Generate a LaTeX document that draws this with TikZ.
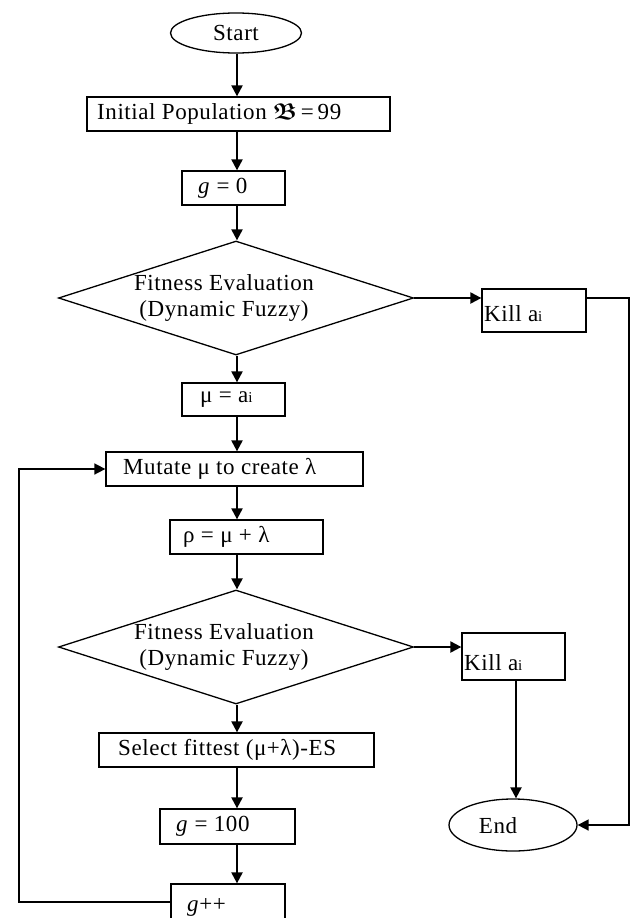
\documentclass[tikz,border=0pt]{standalone}
\usepackage{amsmath,amssymb}
\usepackage{fontspec}
\setmainfont[LetterSpace=2.5]{Liberation Serif}
\usetikzlibrary{arrows.meta,shapes.geometric}
\newcommand{\smi}{{\fontsize{15}{15}\selectfont i}}
\begin{document}
\begin{tikzpicture}[x=1pt,y=-1pt,
  font=\fontsize{23}{26}\selectfont,
  box/.style={draw, rectangle, line width=1.3pt, inner sep=0pt},
  oval/.style={draw, ellipse, line width=1.3pt, inner sep=0pt},
  dia/.style={draw, diamond, line width=1.3pt, inner sep=0pt, minimum width=355pt, minimum height=114pt},
  txt/.style={inner sep=0pt},
  arr/.style={line width=2.2pt, -{Triangle[length=11pt,width=11pt]}},
  conn/.style={line width=1.7pt, -{Triangle[length=11pt,width=11pt]}}]
\useasboundingbox (0,0) rectangle (631,918);
\clip (0,0) rectangle (631,918);
% shapes
\node[oval, minimum width=131pt, minimum height=40pt] (start) at (236,33) {};
\node[box, minimum width=303pt, minimum height=34pt] (init) at (238.5,114) {};
\node[box, minimum width=103pt, minimum height=34pt] (g0) at (233.5,188) {};
\node[dia] (d1) at (236,298) {};
\node[box, minimum width=104pt, minimum height=43pt] (kill1) at (534,310.5) {};
\node[box, minimum width=103pt, minimum height=33pt] (mu) at (233.5,399.5) {};
\node[box, minimum width=257pt, minimum height=34pt] (mutate) at (234.5,469) {};
\node[box, minimum width=153pt, minimum height=34pt] (rho) at (246.5,537) {};
\node[dia] (d2) at (236,647) {};
\node[box, minimum width=103pt, minimum height=47pt] (kill2) at (513.5,656.5) {};
\node[box, minimum width=275pt, minimum height=34pt] (select) at (236.5,750) {};
\node[box, minimum width=135pt, minimum height=35pt] (g100) at (227.5,826.5) {};
\node[box, minimum width=114pt, minimum height=56pt] (gpp) at (228,912) {};
\node[oval, minimum width=128pt, minimum height=52pt] (end) at (513,825) {};
% texts
\node[txt] (tstart) at (236,33) {Start};
\node[txt, anchor=west] (tinit) at (97,114) {Initial Population $\boldsymbol{\mathfrak{B}}$\,=\,99};
\node[txt, anchor=west] (tg0) at (198,188) {\textit{g} = 0};
\node[txt, align=center] (td1) at (224,298) {Fitness Evaluation\\(Dynamic Fuzzy)};
\node[txt, anchor=west] (tk1) at (484,314) {Kill a\smi};
\node[txt, anchor=west] (tmu) at (200,399.5) {μ = a\smi};
\node[txt, anchor=west] (tmut) at (123,469) {Mutate μ to create λ};
\node[txt, anchor=west] (trho) at (183,537) {ρ = μ + λ};
\node[txt, align=center] (td2) at (224,647) {Fitness Evaluation\\(Dynamic Fuzzy)};
\node[txt, anchor=west] (tk2) at (464,663) {Kill a\smi};
\node[txt, anchor=west] (tsel) at (118,750) {Select fittest (μ+λ)-ES};
\node[txt, anchor=west] (tg100) at (176,826) {\textit{g} = 100};
\node[txt, anchor=west] (tgpp) at (187,907) {\textit{g}++};
\node[txt] (tend) at (498,826) {End};
% connectors
\coordinate (col) at (237,0);
\coordinate (kc) at (516,0);
\coordinate (rc) at (629,298);
\coordinate (lp) at (19,902);
\draw[arr] (col |- start.south) -- (col |- init.north);
\draw[arr] (col |- init.south) -- (col |- g0.north);
\draw[arr] (col |- g0.south) -- (col |- d1.north);
\draw[arr] (col |- d1.south) -- (col |- mu.north);
\draw[arr] (col |- mu.south) -- (col |- mutate.north);
\draw[arr] (col |- mutate.south) -- (col |- rho.north);
\draw[arr] (col |- rho.south) -- (col |- d2.north);
\draw[arr] (col |- d2.south) -- (col |- select.north);
\draw[arr] (col |- select.south) -- (col |- g100.north);
\draw[arr] (col |- g100.south) -- (col |- gpp.north);
\draw[arr] (d1.east) -- (d1.east -| kill1.west);
\draw[arr] (d2.east) -- (d2.east -| kill2.west);
\draw[conn] (kill1.east |- rc) -- (rc) |- (end.east);
\draw[arr] (kc |- kill2.south) -- (kc |- end.north);
\draw[conn] (lp -| gpp.west) -- (lp) |- (mutate.west);
\end{tikzpicture}
\end{document}
